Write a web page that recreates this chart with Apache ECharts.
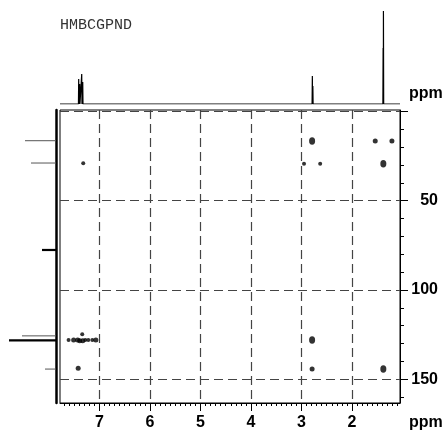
<!DOCTYPE html>
<html>
<head>
<meta charset="utf-8">
<script src="https://cdn.jsdelivr.net/npm/echarts@6/dist/echarts.min.js"></script>
<style>
  html, body { margin: 0; padding: 0; background: #fff; }
  #chart { width: 446px; height: 434px; }
</style>
</head>
<body>
<div id="chart"></div>
<script>
// 1H projection (top trace): peak position (ppm) and height
var protonPpm = [7.41, 7.39, 7.35, 7.33, 2.785, 2.775, 1.384, 1.378];
var protonHeight = [25, 20, 30, 22, 28, 18, 56, 93];

// 13C projection (left trace): peak position (ppm) and height
var carbonPpm = [16.4, 28.9, 77.6, 125.7, 128.2, 144.3];
var carbonHeight = [31, 25, 14, 34, 47, 11];

// HMBC cross peaks: 1H ppm, 13C ppm, contour level
var crossH = [7.32, 2.79, 2.95, 2.63, 1.54, 1.21, 1.38, 2.79, 2.79, 1.38, 7.42,
  7.61, 7.51, 7.43, 7.39, 7.34, 7.33, 7.28, 7.22, 7.14, 7.07];
var crossC = [29.0, 16.6, 29.3, 29.3, 16.6, 16.6, 29.3, 128.0, 144.3, 144.3, 143.8,
  128.0, 128.0, 128.0, 128.5, 124.8, 128.5, 128.0, 128.0, 128.0, 128.0];
var crossLevel = [1, 3, 1, 1, 2, 2, 3, 3, 2, 3, 2,
  1, 2, 2, 2, 1, 2, 1, 1, 1, 2];

// axis labels
var hLabels = [2, 3, 4, 5, 6, 7];
var cLabels = [50, 100, 150];
var cGrid = [0, 50, 100, 150];

var H_MIN = 1.05, H_MAX = 7.78;
var C_MIN = -0.8, C_MAX = 163.3;

var FONT = '"Liberation Sans", Arial, sans-serif';

// minor ticks
var hMinor = [];
for (var i = 11; i <= 77; i++) { if (i % 10) hMinor.push(i / 10); }
var cMinor = [];
for (var j = 10; j <= 160; j += 10) { if (j % 50) cMinor.push(j); }

// top trace data
var protonLine = [[H_MAX, 0]];
protonPpm.forEach(function (p, k) {
  protonLine.push([p + 0.005, 0], [p, protonHeight[k]], [p - 0.005, 0]);
});
protonLine.push([H_MIN, 0]);

var crossData = crossH.map(function (h, k) { return [h, crossC[k], crossLevel[k]]; });
var carbonData = carbonPpm.map(function (c, k) { return [carbonHeight[k], c]; });
var thickCarbon = [77.6, 128.2];

var chart = echarts.init(document.getElementById('chart'));

var dashed = { show: true, lineStyle: { color: '#444', type: [9, 5], width: 1.2 } };
var mainRect = { left: 60, top: 110, width: 340, height: 293, outerBoundsMode: 'none' };

chart.setOption({
  animation: false,
  grid: [
    Object.assign({ show: true, borderColor: '#000', borderWidth: 1 }, mainRect),
    { left: 60, top: 10, width: 340, height: 94, outerBoundsMode: 'none' },
    { left: 0, top: 110, width: 56, height: 293, outerBoundsMode: 'none' },
    Object.assign({}, mainRect)
  ],
  xAxis: [
    {
      gridIndex: 0, type: 'value', min: H_MIN, max: H_MAX, inverse: true, position: 'bottom',
      axisLine: { show: true, onZero: false, lineStyle: { color: '#000', width: 1 } },
      axisTick: { show: true, customValues: hLabels, length: 8, lineStyle: { color: '#000' } },
      axisLabel: { customValues: hLabels, margin: 12, color: '#000', fontSize: 16, fontWeight: 'bold', fontFamily: FONT },
      splitLine: dashed
    },
    {
      gridIndex: 1, type: 'value', min: H_MIN, max: H_MAX, inverse: true, show: false
    },
    {
      gridIndex: 2, type: 'value', min: 0, max: 56, inverse: true, show: false
    },
    {
      gridIndex: 3, type: 'value', min: H_MIN, max: H_MAX, inverse: true, position: 'bottom',
      axisLine: { show: false, onZero: false },
      axisTick: { show: true, customValues: hMinor, length: 3, lineStyle: { color: '#000' } },
      axisLabel: { show: false },
      splitLine: { show: false }
    }
  ],
  yAxis: [
    {
      gridIndex: 0, type: 'value', min: C_MIN, max: C_MAX, inverse: true, position: 'right',
      axisLine: { show: true, onZero: false, lineStyle: { color: '#000', width: 1 } },
      axisTick: { show: true, customValues: cGrid, length: 8, lineStyle: { color: '#000' } },
      axisLabel: { customValues: cLabels, margin: 38, align: 'right', color: '#000', fontSize: 16, fontWeight: 'bold', fontFamily: FONT },
      splitLine: dashed
    },
    {
      gridIndex: 1, type: 'value', min: 0, max: 94, show: false
    },
    {
      gridIndex: 2, type: 'value', min: C_MIN, max: C_MAX, inverse: true, position: 'right',
      axisLine: { show: true, onZero: false, lineStyle: { color: '#000', width: 2.5 } },
      axisTick: { show: false }, axisLabel: { show: false }, splitLine: { show: false }
    },
    {
      gridIndex: 3, type: 'value', min: C_MIN, max: C_MAX, inverse: true, position: 'right',
      axisLine: { show: false, onZero: false },
      axisTick: { show: true, customValues: cMinor, length: 4, lineStyle: { color: '#000' } },
      axisLabel: { show: false },
      splitLine: { show: false }
    }
  ],
  series: [
    {
      type: 'scatter', xAxisIndex: 0, yAxisIndex: 0, data: crossData,
      symbol: 'circle',
      symbolSize: function (v) {
        if (v[2] === 3) return [6, 7.5];
        if (v[2] === 2) return 5;
        return 4;
      },
      itemStyle: { color: '#000' }
    },
    {
      type: 'line', xAxisIndex: 1, yAxisIndex: 1, data: protonLine,
      showSymbol: false, lineStyle: { color: '#000', width: 1.2 }
    },
    {
      type: 'custom', xAxisIndex: 2, yAxisIndex: 2, data: carbonData,
      renderItem: function (params, api) {
        var a = api.coord([0, api.value(1)]);
        var b = api.coord([api.value(0), api.value(1)]);
        var thick = thickCarbon.indexOf(api.value(1)) >= 0;
        return {
          type: 'line',
          shape: { x1: a[0], y1: a[1], x2: b[0], y2: b[1] },
          style: { stroke: thick ? '#000' : '#555', lineWidth: thick ? 2.2 : 1 }
        };
      }
    }
  ],
  graphic: [
    { type: 'text', left: 60, top: 18, style: { text: 'HMBCGPND', font: '15px "Liberation Mono", monospace', fill: '#333' } },
    { type: 'text', left: 409, top: 86, style: { text: 'ppm', font: 'bold 16px ' + FONT, fill: '#000' } },
    { type: 'text', left: 409, top: 415, style: { text: 'ppm', font: 'bold 16px ' + FONT, fill: '#000' } }
  ]
});
</script>
</body>
</html>
